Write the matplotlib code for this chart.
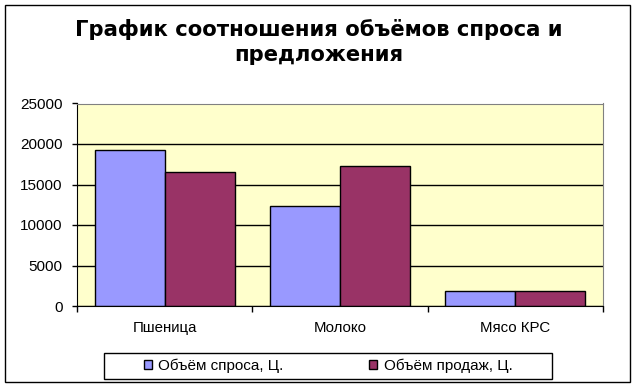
import matplotlib

matplotlib.use("Agg")
import matplotlib.pyplot as plt
import numpy as np
from matplotlib.patches import Rectangle

categories = ["Пшеница", "Молоко", "Мясо КРС"]
demand = [19300, 12400, 1900]
sales = [16500, 17300, 1900]
series_labels = ["Объём спроса, Ц.", "Объём продаж, Ц."]
y_ticks = [0, 5000, 10000, 15000, 20000, 25000]
title = "График соотношения объёмов спроса и\nпредложения"

W, H = 637, 388
fig = plt.figure(figsize=(W / 100, H / 100), dpi=100)
fig.patch.set_facecolor("white")


def px(x0, y0, x1, y1):
    """pixel box (top-left origin) -> figure fraction rect"""
    return [x0 / W, 1 - y1 / H, (x1 - x0) / W, (y1 - y0) / H]


ax = fig.add_axes(px(77, 103.5, 603, 306))
ax.set_facecolor("#FFFFCC")

x = np.arange(len(categories))
w = 0.4
ax.bar(x - w / 2, demand, w, color="#9999FF", edgecolor="black", lw=1, label=series_labels[0])
ax.bar(x + w / 2, sales, w, color="#993366", edgecolor="black", lw=1, label=series_labels[1])

ax.set_xlim(-0.5, len(categories) - 0.5)
ax.set_ylim(0, 25000)
ax.set_yticks(y_ticks)
ax.set_yticklabels([str(v) for v in y_ticks], fontsize=11, family="Liberation Sans")
ax.set_xticks(x)
ax.set_xticklabels(categories, fontsize=10.8, family="Liberation Sans")
ax.set_xticks(np.arange(-0.5, len(categories), 1.0), minor=True)
ax.tick_params(axis="x", which="major", length=0, pad=11)
ax.tick_params(axis="x", which="minor", length=4, width=1, direction="out")
ax.tick_params(axis="y", length=3.5, width=1, pad=7)

ax.set_axisbelow(True)
ax.yaxis.grid(True, color="black", lw=1)
for side in ["top", "right"]:
    ax.spines[side].set_color("#808080")
for side in ["left", "bottom"]:
    ax.spines[side].set_color("black")

fig.text(0.5, 1 - 42 / H, title, ha="center", va="center", fontsize=15.2,
         fontweight="bold", family="DejaVu Sans", linespacing=1.32)

# legend frame and entries
fig.patches.append(Rectangle((104 / W, 1 - 379.3 / H), 448 / W, 26.6 / H,
                             transform=fig.transFigure, fill=False, ec="black", lw=1))
handles, labels = ax.get_legend_handles_labels()
fig.legend(handles, labels, loc="center", bbox_to_anchor=(328 / W, 1 - 366 / H), ncol=2,
           frameon=False, prop={"family": "Liberation Sans", "size": 11},
           handlelength=0.55, handleheight=0.55, handletextpad=0.4, columnspacing=5.6)

# chart area border
fig.patches.append(Rectangle((5 / W, 1 - 382 / H), 625 / W, 377 / H,
                             transform=fig.transFigure, fill=False, ec="black", lw=1))

fig.savefig("out.png", dpi=100)
